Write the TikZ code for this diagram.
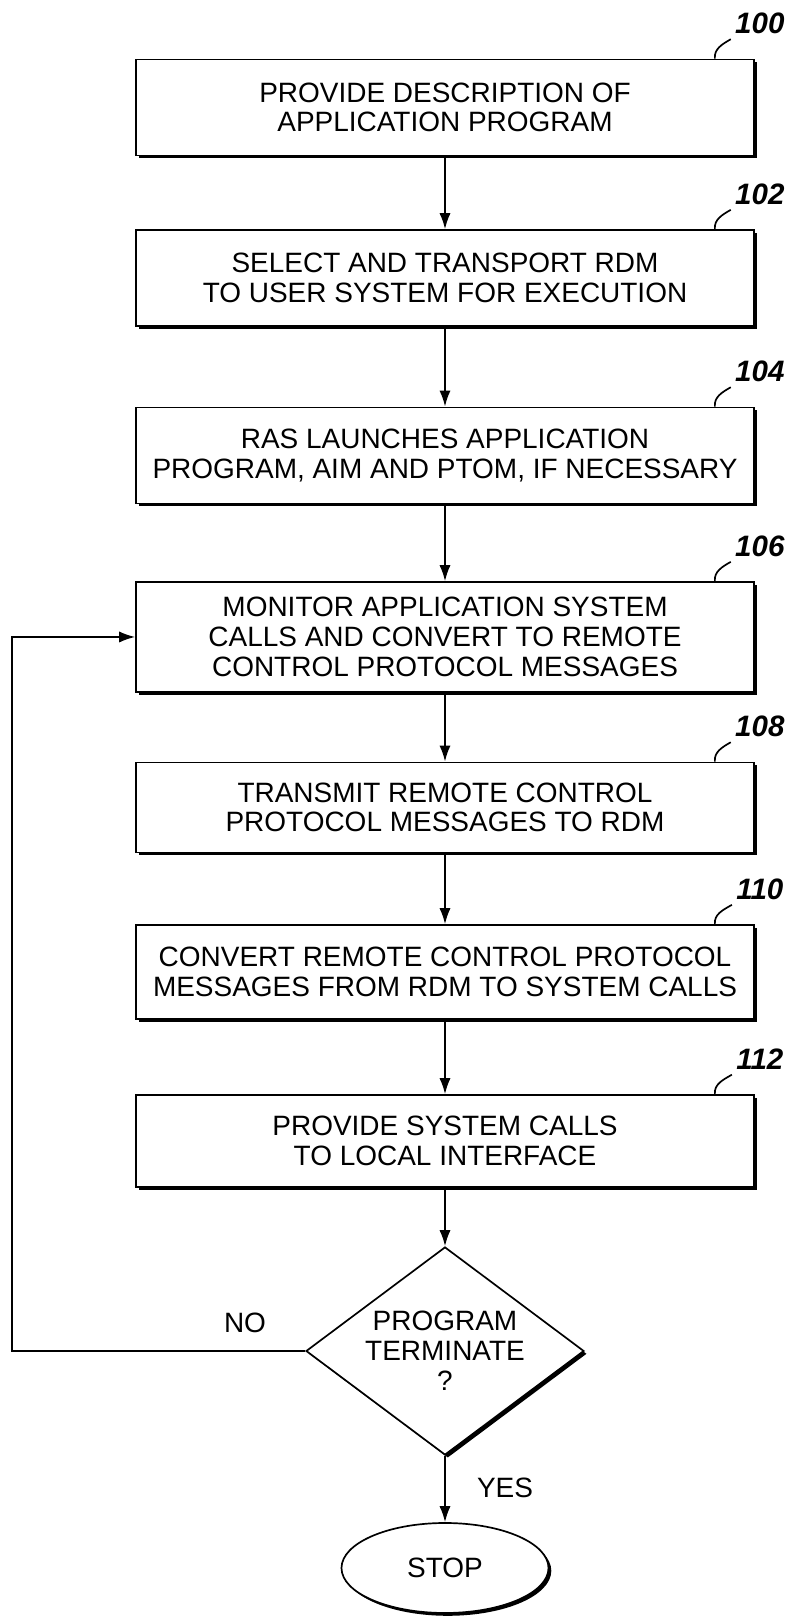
\documentclass[tikz,border=0pt]{standalone}
\usepackage{fontspec}
\setmainfont{Liberation Sans}
\usetikzlibrary{arrows.meta,shapes.geometric,shadows}

\begin{document}
\begin{tikzpicture}[
  line width=1.2pt,
  >={Latex[length=0.4cm,width=0.28cm]},
  font=\fontsize{19.9}{21.3}\selectfont,
  shade/.style={drop shadow={shadow xshift=0.07cm,shadow yshift=-0.07cm,opacity=1,fill=black}},
  stepbox/.style={draw,fill=white,shade,align=center,minimum width=15.45cm,minimum height=2.4cm},
  decision/.style={diamond,draw,fill=white,shade,align=center,aspect=1.34,inner sep=0pt,minimum width=6.95cm,minimum height=5.2cm},
  endnode/.style={ellipse,draw,fill=white,shade,inner sep=0pt,minimum width=5.175cm,minimum height=2.25cm},
  numlbl/.style={inner sep=0pt,font=\fontsize{21}{22}\selectfont\bfseries\itshape}
]
\useasboundingbox (0,0) rectangle (19.6,40.475);

\node[stepbox] (b100) at (11.125,37.79) {PROVIDE DESCRIPTION OF\\APPLICATION PROGRAM};
\node[numlbl] (n100) at ([xshift=0.125cm,yshift=0.875cm]b100.north east) {100};
\draw ([xshift=-1cm]b100.north east) to[out=95,in=210] ([xshift=-0.09cm,yshift=-0.11cm]n100.south west);

\node[stepbox] (b102) at (11.125,33.525) {SELECT AND TRANSPORT RDM\\TO USER SYSTEM FOR EXECUTION};
\node[numlbl] (n102) at ([xshift=0.125cm,yshift=0.875cm]b102.north east) {102};
\draw ([xshift=-1cm]b102.north east) to[out=95,in=210] ([xshift=-0.09cm,yshift=-0.11cm]n102.south west);

\node[stepbox] (b104) at (11.125,29.09) {RAS LAUNCHES APPLICATION\\PROGRAM, AIM AND PTOM, IF NECESSARY};
\node[numlbl] (n104) at ([xshift=0.125cm,yshift=0.875cm]b104.north east) {104};
\draw ([xshift=-1cm]b104.north east) to[out=95,in=210] ([xshift=-0.09cm,yshift=-0.11cm]n104.south west);

\node[stepbox,minimum height=2.75cm] (b106) at (11.125,24.55) {MONITOR APPLICATION SYSTEM\\CALLS AND CONVERT TO REMOTE\\CONTROL PROTOCOL MESSAGES};
\node[numlbl] (n106) at ([xshift=0.125cm,yshift=0.875cm]b106.north east) {106};
\draw ([xshift=-1cm]b106.north east) to[out=95,in=210] ([xshift=-0.09cm,yshift=-0.11cm]n106.south west);

\node[stepbox,minimum height=2.25cm] (b108) at (11.125,20.29) {TRANSMIT REMOTE CONTROL\\PROTOCOL MESSAGES TO RDM};
\node[numlbl] (n108) at ([xshift=0.125cm,yshift=0.875cm]b108.north east) {108};
\draw ([xshift=-1cm]b108.north east) to[out=95,in=210] ([xshift=-0.09cm,yshift=-0.11cm]n108.south west);

\node[stepbox,minimum height=2.35cm] (b110) at (11.125,16.175) {CONVERT REMOTE CONTROL PROTOCOL\\MESSAGES FROM RDM TO SYSTEM CALLS};
\node[numlbl] (n110) at ([xshift=0.125cm,yshift=0.875cm]b110.north east) {110};
\draw ([xshift=-1cm]b110.north east) to[out=95,in=210] ([xshift=-0.09cm,yshift=-0.11cm]n110.south west);

\node[stepbox,minimum height=2.3cm] (b112) at (11.125,11.95) {PROVIDE SYSTEM CALLS\\TO LOCAL INTERFACE};
\node[numlbl] (n112) at ([xshift=0.125cm,yshift=0.875cm]b112.north east) {112};
\draw ([xshift=-1cm]b112.north east) to[out=95,in=210] ([xshift=-0.09cm,yshift=-0.11cm]n112.south west);

\node[decision] (dec) at (11.125,6.7) {PROGRAM\\TERMINATE\\?};
\node[endnode] (stop) at (11.125,1.275) {STOP};
\node (no) at (6.125,7.4) {NO};
\node (yes) at (12.625,3.275) {YES};
\coordinate (loop) at (0.3,6.7);

\draw[->] (b100) -- (b102);
\draw[->] (b102) -- (b104);
\draw[->] (b104) -- (b106);
\draw[->] (b106) -- (b108);
\draw[->] (b108) -- (b110);
\draw[->] (b110) -- (b112);
\draw[->] (b112) -- (dec);
\draw[->] (dec) -- (stop);
\draw[->] (dec.west) -- (loop) |- (b106.west);

\end{tikzpicture}
\end{document}
